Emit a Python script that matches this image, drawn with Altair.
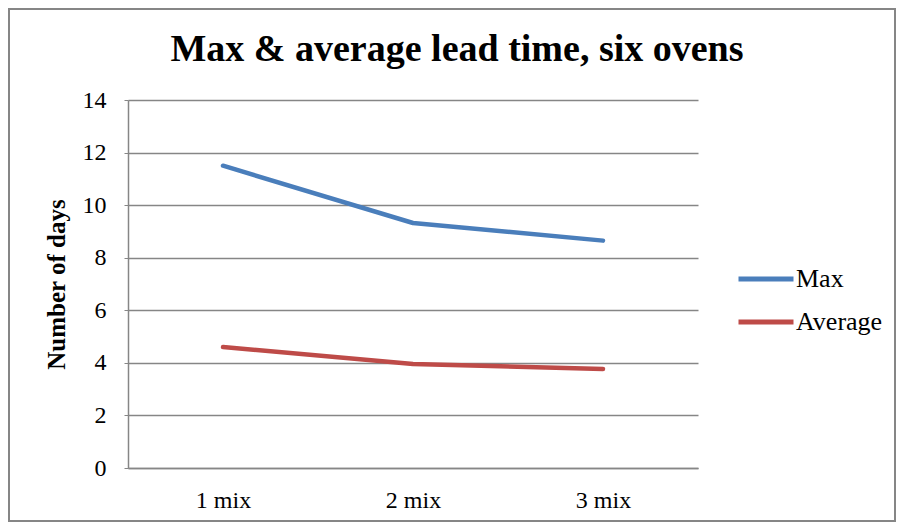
import altair as alt
import pandas as pd

categories = ["1 mix", "2 mix", "3 mix"]
max_values = [11.5, 9.32, 8.65]
avg_values = [4.6, 3.96, 3.77]
series_names = ["Max", "Average"]
colors = ["#4A7EBB", "#BE4B48"]
title_text = ["Max & average lead time, six ovens"]

rows = []
for c, v in zip(categories, max_values):
    rows.append({"mix": c, "days": v, "series": "Max"})
for c, v in zip(categories, avg_values):
    rows.append({"mix": c, "days": v, "series": "Average"})
df = pd.DataFrame(rows)

FONT = "Liberation Serif"
GRAY = "#868686"

lines = alt.Chart(df).mark_line(strokeWidth=4.5, strokeCap="round", strokeJoin="round").encode(
    x=alt.X("mix:N", sort=categories, scale=alt.Scale(type="point", padding=0.5),
            axis=alt.Axis(title=None, labelAngle=0, labelFont=FONT, labelFontSize=24,
                          labelColor="black", ticks=False, domainColor=GRAY, domainWidth=1.5,
                          labelPadding=20, grid=False)),
    y=alt.Y("days:Q", scale=alt.Scale(domain=[0, 14], nice=False),
            axis=alt.Axis(title="Number of days", values=list(range(0, 15, 2)), labelFont=FONT,
                          labelFontSize=24, labelColor="black", titleFont=FONT, titleFontSize=25,
                          titleFontWeight="bold", titleColor="black", titlePadding=13,
                          ticks=True, tickSize=4, tickColor=GRAY, domainColor=GRAY, domainWidth=1.5,
                          gridColor=GRAY, gridWidth=1.5, labelPadding=18)),
    color=alt.Color("series:N", sort=series_names,
                    scale=alt.Scale(domain=series_names, range=colors),
                    legend=alt.Legend(title=None, orient="none", legendX=608, legendY=149,
                                      symbolType="stroke", symbolSize=3025, symbolStrokeWidth=5,
                                      labelFont=FONT, labelFontSize=26, labelColor="black",
                                      labelOffset=0, rowPadding=-1)),
)

frame = alt.Chart(pd.DataFrame({"f": [0]})).mark_rect(
    fill=None, stroke=GRAY, strokeWidth=2, clip=False
).encode(
    x=alt.value(-119), x2=alt.value(767), y=alt.value(-91), y2=alt.value(421)
)

title = alt.Chart(pd.DataFrame({"t": title_text})).mark_text(
    font=FONT, fontSize=38, fontWeight="bold", color="black", align="center",
    baseline="alphabetic", clip=False
).encode(text="t:N", x=alt.value(329), y=alt.value(-39))

chart = alt.layer(frame, lines, title).properties(
    width=570, height=368,
    padding={"left": 120, "top": 92, "right": 198, "bottom": 54},
    autosize=alt.AutoSizeParams(type="none"),
).configure_view(stroke=None)

chart.save("out.html", embed_options={"renderer": "svg", "actions": False})
